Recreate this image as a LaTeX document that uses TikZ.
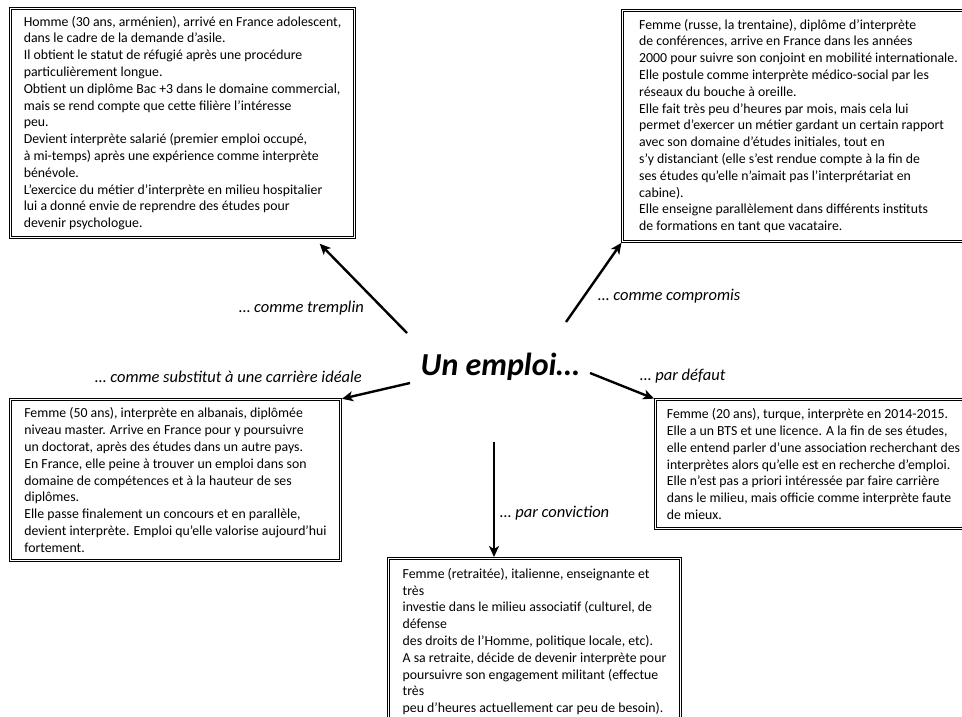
\documentclass[tikz,border=0pt]{standalone}
\usepackage{fontspec}
\setmainfont{Carlito}
\usetikzlibrary{arrows.meta}

\tikzset{
  profil/.style={draw,double,double distance=1.4pt,line width=1pt,align=left,anchor=north west,inner sep=0pt,font=\fontsize{13.8}{16.8}\selectfont},
  fleche/.style={-{Stealth[length=11pt,width=10pt,inset=3pt]},line width=2.4pt,shorten >=1pt},
  etiquette/.style={inner sep=0pt,font=\fontsize{16.5}{19}\selectfont\itshape}
}

\begin{document}
\begin{tikzpicture}[x=1pt,y=-1pt]
\path[use as bounding box,clip] (0,0) rectangle (962,716);

% les cinq profils
\node[profil,minimum width=344pt,minimum height=229pt] (tl) at (10,8) {Homme (30 ans, arménien), arrivé en France adolescent,\\dans le cadre de la demande d’asile.\\Il obtient le statut de réfugié après une procédure\\particulièrement longue.\\Obtient un diplôme Bac +3 dans le domaine commercial,\\mais se rend compte que cette filière l’intéresse\\peu.\\Devient interprète salarié (premier emploi occupé,\\à mi-temps) après une expérience comme interprète\\bénévole.\\L’exercice du métier d’interprète en milieu hospitalier\\lui a donné envie de reprendre des études pour\\devenir psychologue.};
\node[profil,minimum width=352pt,minimum height=231pt] (tr) at (622,10) {Femme (russe, la trentaine), diplôme d’interprète\\de conférences, arrive en France dans les années\\2000 pour suivre son conjoint en mobilité internationale.\\Elle postule comme interprète médico-social par les\\réseaux du bouche à oreille.\\Elle fait très peu d’heures par mois, mais cela lui\\permet d’exercer un métier gardant un certain rapport\\avec son domaine d’études initiales, tout en\\s’y distanciant (elle s’est rendue compte à la fin de\\ses études qu’elle n’aimait pas l’interprétariat en\\cabine).\\Elle enseigne parallèlement dans différents instituts\\de formations en tant que vacataire.};
\node[profil,minimum width=330pt,minimum height=161pt] (bl) at (10,399) {Femme (50 ans), interprète en albanais, diplômée\\niveau master. Arrive en France pour y poursuivre\\un doctorat, après des études dans un autre pays.\\En France, elle peine à trouver un emploi dans son\\domaine de compétences et à la hauteur de ses\\diplômes.\\Elle passe finalement un concours et en parallèle,\\devient interprète. Emploi qu’elle valorise aujourd’hui\\fortement.};
\node[profil,minimum width=316pt,minimum height=129pt] (br) at (655,399) {Femme (20 ans), turque, interprète en 2014-2015.\\Elle a un BTS et une licence. A la fin de ses études,\\elle entend parler d’une association recherchant des\\interprètes alors qu’elle est en recherche d’emploi.\\Elle n’est pas a priori intéressée par faire carrière\\dans le milieu, mais officie comme interprète faute\\de mieux.};
\node[profil,minimum width=292pt,minimum height=166pt] (bot) at (388,558) {Femme (retraitée), italienne, enseignante et\\très\\investie dans le milieu associatif (culturel, de\\défense\\des droits de l’Homme, politique locale, etc).\\A sa retraite, décide de devenir interprète pour\\poursuivre son engagement militant (effectue\\très\\peu d’heures actuellement car peu de besoin).};

% centre
\node[font=\fontsize{32}{38}\selectfont\bfseries\itshape] (emploi) at (500,367) {Un emploi…};

\coordinate (d1) at (407,333);
\coordinate (d2) at (566,322);
\coordinate (d3) at (410,383);
\coordinate (d4) at (590,373);
\coordinate (d5) at (494,442);

\path[fleche]
  (d1) edge ([xshift=-36pt,yshift=-5pt]tl.south east)
  (d2) edge (tr.south west)
  (d3) edge (bl.north east)
  (d4) edge (br.north west)
  (d5) edge (d5 |- bot.north)
;

\node[etiquette,anchor=east] (l1) at (364,308) {… comme tremplin};
\node[etiquette,anchor=west] (l2) at (598,296) {… comme compromis};
\node[etiquette,anchor=east] (l3) at (362,377) {… comme substitut à une carrière idéale};
\node[etiquette,anchor=west] (l4) at (640,376) {… par défaut};
\node[etiquette,anchor=west] (l5) at (500,513) {… par conviction};

\end{tikzpicture}
\end{document}
